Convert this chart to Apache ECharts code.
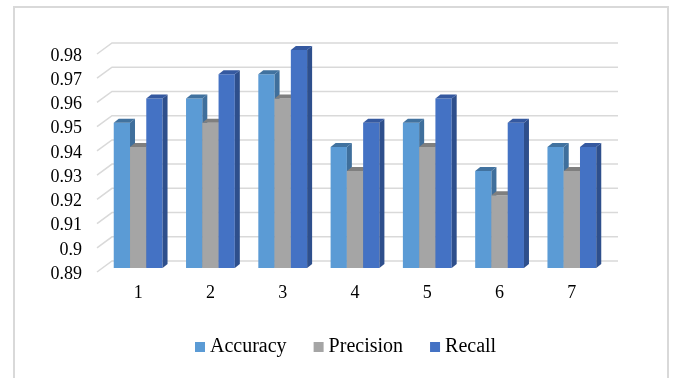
<!DOCTYPE html>
<html>
<head>
<meta charset="utf-8">
<script src="https://cdn.jsdelivr.net/npm/echarts@6/dist/echarts.min.js"></script>
<style>
  html, body { margin: 0; padding: 0; background: #fff; }
  #chart { width: 674px; height: 378px; }
</style>
</head>
<body>
<div id="chart"></div>
<script>
// data
var categories = ["1", "2", "3", "4", "5", "6", "7"];
var accuracy = [0.95, 0.96, 0.97, 0.94, 0.95, 0.93, 0.94];
var precision = [0.94, 0.95, 0.96, 0.93, 0.94, 0.92, 0.93];
var recall = [0.96, 0.97, 0.98, 0.95, 0.96, 0.95, 0.94];
var yTicks = [0.89, 0.9, 0.91, 0.92, 0.93, 0.94, 0.95, 0.96, 0.97, 0.98];

var FONT = "Liberation Serif";
var DX = 5, DY = 4; // bar depth

// front / side / top colours per series
var palette = [
	["#5B9BD5", "#3F6F9C", "#41729F"],
	["#A5A5A5", "#7A7A7A", "#7F7F7F"],
	["#4472C4", "#2E4F8C", "#3559A0"]
];

function barRenderer(idx) {
	return function(params, api) {
		var cat = api.value(0);
		var top = api.coord([cat, api.value(1)]);
		var base = api.coord([cat, yTicks[0]]);
		var band = api.size([1, 0])[0];
		var bw = band * 0.225;
		var left = top[0] + (idx - 1.5) * bw;
		var ty = top[1], by = base[1];
		var c = palette[idx];
		return {
			type: "group",
			children: [
				{
					type: "rect",
					shape: { x: left, y: ty, width: bw, height: by - ty },
					style: { fill: c[0] }
				},
				{
					type: "polygon",
					shape: { points: [[left + bw, ty], [left + bw + DX, ty - DY], [left + bw + DX, by - DY], [left + bw, by]] },
					style: { fill: c[1] }
				},
				{
					type: "polygon",
					shape: { points: [[left, ty], [left + DX, ty - DY], [left + bw + DX, ty - DY], [left + bw, ty]] },
					style: { fill: c[2] }
				}
			]
		};
	};
}

function gridRenderer(params, api) {
	var cs = params.coordSys;
	var y = api.coord([0, api.value(1)])[1];
	return {
		type: "polyline",
		shape: { points: [[cs.x - 5, y + 4], [cs.x + 10, y - 7], [cs.x + cs.width + 10, y - 7]] },
		style: { stroke: "#d9d9d9", lineWidth: 1.5, fill: null }
	};
}

function pairs(arr) {
	return arr.map(function(v, i) { return [i, v]; });
}

var chart = echarts.init(document.getElementById("chart"));
chart.setOption({
	animation: false,
	backgroundColor: "#fff",
	graphic: [
		{
			type: "rect",
			shape: { x: 14, y: 7, width: 654, height: 380 },
			style: { fill: null, stroke: "#d9d9d9", lineWidth: 2 },
			z: -10
		}
	],
	legend: {
		left: 190,
		top: 332,
		itemWidth: 10,
		itemHeight: 10,
		itemGap: 27,
		icon: "rect",
		textStyle: { fontFamily: FONT, fontSize: 20, color: "#000" },
		data: [
			{ name: "Accuracy", itemStyle: { color: palette[0][0] } },
			{ name: "Precision", itemStyle: { color: palette[1][0] } },
			{ name: "Recall", itemStyle: { color: palette[2][0] } }
		]
	},
	grid: { left: 102, right: 66, top: 50, bottom: 110 },
	xAxis: {
		type: "category",
		data: categories,
		axisLine: { show: false },
		axisTick: { show: false },
		axisLabel: { fontFamily: FONT, fontSize: 18, color: "#000", margin: 16 }
	},
	yAxis: {
		type: "value",
		min: 0.89,
		max: 0.98,
		interval: 0.01,
		splitLine: { show: false },
		axisLine: { show: false },
		axisTick: { show: false },
		axisLabel: {
			fontFamily: FONT,
			fontSize: 18,
			color: "#000",
			margin: 20,
			verticalAlign: "top",
			lineHeight: 12,
			formatter: function(v) { return String(+v.toFixed(2)); }
		}
	},
	series: [
		{
			type: "custom",
			name: "grid",
			renderItem: gridRenderer,
			data: yTicks.map(function(v) { return [0, v]; }),
			z: 1,
			silent: true
		},
		{ type: "custom", name: "Accuracy", renderItem: barRenderer(0), data: pairs(accuracy), z: 2, itemStyle: { color: palette[0][0] } },
		{ type: "custom", name: "Precision", renderItem: barRenderer(1), data: pairs(precision), z: 3, itemStyle: { color: palette[1][0] } },
		{ type: "custom", name: "Recall", renderItem: barRenderer(2), data: pairs(recall), z: 4, itemStyle: { color: palette[2][0] } }
	]
});
</script>
</body>
</html>
